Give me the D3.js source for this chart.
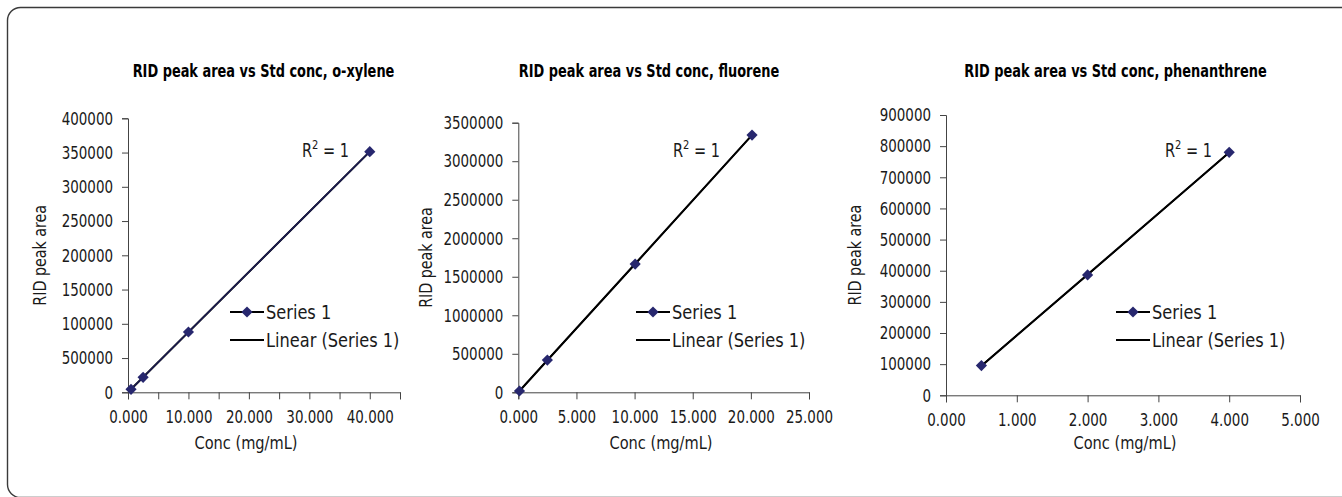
<!DOCTYPE html>
<html>
<head>
<meta charset="utf-8">
<script src="https://cdn.jsdelivr.net/npm/d3@7"></script>
<style>
  html, body { margin: 0; padding: 0; background: #fff; }
  svg { display: block; }
  text { font-family: "Liberation Sans Narrow", "DejaVu Sans Condensed", "Arial Narrow", sans-serif; fill: #1a1a1a; }
  .title { font-weight: bold; font-size: 17px; fill: #000; }
  .tick text { font-size: 18px; }
  .axtitle { font-size: 18px; }
  .legend text { font-size: 20px; }
  .r2 { font-size: 19px; }
</style>
</head>
<body>
<svg id="chart" width="1342" height="497"></svg>
<script>
// ---------------- data ----------------
const titles = [
  "RID peak area vs Std conc, o-xylene",
  "RID peak area vs Std conc, fluorene",
  "RID peak area vs Std conc, phenanthrene"
];
const xTitle = "Conc (mg/mL)";
const yTitle = "RID peak area";
const legendLabels = ["Series 1", "Linear (Series 1)"];
const r2Label = "1";

// o-xylene
const xylConc = [0.5, 2.5, 10.0, 40.0];
const xylArea = [4400, 21900, 88000, 351300];
const xylYTicks = [0, 50000, 100000, 150000, 200000, 250000, 300000, 350000, 400000];
const xylYTickLabels = ["0", "500000", "100000", "150000", "200000", "250000", "300000", "350000", "400000"];
const xylXTicks = [0, 5, 10, 15, 20, 25, 30, 35, 40, 45];
const xylXTickLabels = ["0.000", "", "10.000", "", "20.000", "", "30.000", "", "40.000", ""];

// fluorene
const fluConc = [0.1, 2.5, 10.05, 20.1];
const fluArea = [16600, 418000, 1664000, 3340000];
const fluYTicks = [0, 500000, 1000000, 1500000, 2000000, 2500000, 3000000, 3500000];
const fluYTickLabels = ["0", "500000", "1000000", "1500000", "2000000", "2500000", "3000000", "3500000"];
const fluXTicks = [0, 5, 10, 15, 20, 25];
const fluXTickLabels = ["0.000", "5.000", "10.000", "15.000", "20.000", "25.000"];

// phenanthrene
const phenConc = [0.5, 2.0, 4.0];
const phenArea = [95300, 386500, 780100];
const phenYTicks = [0, 100000, 200000, 300000, 400000, 500000, 600000, 700000, 800000, 900000];
const phenYTickLabels = ["0", "100000", "200000", "300000", "400000", "500000", "600000", "700000", "800000", "900000"];
const phenXTicks = [0, 1, 2, 3, 4, 5];
const phenXTickLabels = ["0.000", "1.000", "2.000", "3.000", "4.000", "5.000"];

// ---------------- layout (positions / styles) ----------------
const panels = [
  { x: xylConc, y: xylArea, xt: xylXTicks, xl: xylXTickLabels, yt: xylYTicks, yl: xylYTickLabels,
    left: 128, right: 400, top: 118.3, bottom: 392.3,
    titleX: 263.5, yTitleX: 40, xTitleX: 246, r2X: 302, legX: 230 },
  { x: fluConc, y: fluArea, xt: fluXTicks, xl: fluXTickLabels, yt: fluYTicks, yl: fluYTickLabels,
    left: 518.3, right: 809, top: 122.7, bottom: 392.3,
    titleX: 649, yTitleX: 426, xTitleX: 661, r2X: 673, legX: 636 },
  { x: phenConc, y: phenArea, xt: phenXTicks, xl: phenXTickLabels, yt: phenYTicks, yl: phenYTickLabels,
    left: 946, right: 1300, top: 115, bottom: 395.3,
    titleX: 1115.5, yTitleX: 855, xTitleX: 1125, r2X: 1165, legX: 1116 }
];
const markerColor = "#27276e";
const axisColor = "#444";

// squeeze a text horizontally to mimic the condensed face of the original
function condense(sel, f) {
  sel.each(function () {
    const len = this.getComputedTextLength();
    if (len > 0) {
      d3.select(this).attr("textLength", len * f).attr("lengthAdjust", "spacingAndGlyphs");
    }
  });
}

const svg = d3.select("#chart");

// outer rounded frame (extends beyond right & bottom edges)
svg.append("rect")
  .attr("x", 7.5).attr("y", 7.5)
  .attr("width", 1400).attr("height", 490)
  .attr("rx", 13).attr("ry", 13)
  .attr("fill", "none").attr("stroke", "#3a3a3a").attr("stroke-width", 1.4);

panels.forEach((p, i) => {
  const g = svg.append("g");
  const xs = d3.scaleLinear().domain([p.xt[0], p.xt[p.xt.length - 1]]).range([p.left, p.right]);
  const ys = d3.scaleLinear().domain([p.yt[0], p.yt[p.yt.length - 1]]).range([p.bottom, p.top]);

  // title
  g.append("text").attr("class", "title")
    .attr("x", p.titleX).attr("y", 77)
    .attr("text-anchor", "middle").text(titles[i])
    .call(condense, 0.845);

  // y axis
  const yAxis = d3.axisLeft(ys).tickValues(p.yt)
    .tickFormat((d, k) => p.yl[k]).tickSize(6).tickPadding(9);
  const yg = g.append("g").attr("transform", `translate(${p.left},0)`).call(yAxis);
  yg.select(".domain").attr("stroke", axisColor);
  yg.selectAll(".tick line").attr("stroke", axisColor);
  yg.selectAll(".tick text").attr("fill", "#1a1a1a").call(condense, 0.83);

  // x axis
  const xAxis = d3.axisBottom(xs).tickValues(p.xt)
    .tickFormat((d, k) => p.xl[k]).tickSize(7).tickPadding(11);
  const xg = g.append("g").attr("transform", `translate(0,${p.bottom})`).call(xAxis);
  xg.select(".domain").attr("stroke", axisColor);
  xg.selectAll(".tick line").attr("stroke", axisColor);
  xg.selectAll(".tick text").attr("fill", "#1a1a1a").call(condense, 0.83);

  // axis titles
  g.append("text").attr("class", "axtitle")
    .attr("x", p.xTitleX).attr("y", 449)
    .attr("text-anchor", "middle").text(xTitle)
    .call(condense, 0.9);
  g.append("text").attr("class", "axtitle")
    .attr("transform", `translate(${p.yTitleX + 6},${(p.top + p.bottom) / 2}) rotate(-90)`)
    .attr("text-anchor", "middle").text(yTitle)
    .call(condense, 0.88);

  // linear trend (least squares)
  const n = p.x.length;
  const mx = d3.mean(p.x), my = d3.mean(p.y);
  let sxy = 0, sxx = 0;
  for (let k = 0; k < n; k++) { sxy += (p.x[k] - mx) * (p.y[k] - my); sxx += (p.x[k] - mx) ** 2; }
  const slope = sxy / sxx, icpt = my - slope * mx;
  const x0 = d3.min(p.x), x1 = d3.max(p.x);
  g.append("line")
    .attr("x1", xs(x0)).attr("y1", ys(icpt + slope * x0))
    .attr("x2", xs(x1)).attr("y2", ys(icpt + slope * x1))
    .attr("stroke", "#000").attr("stroke-width", 2);

  // series line
  const pts = p.x.map((v, k) => [v, p.y[k]]);
  g.append("path").datum(pts)
    .attr("d", d3.line().x(d => xs(d[0])).y(d => ys(d[1])))
    .attr("fill", "none").attr("stroke", i === 0 ? "#1c1c50" : "#000").attr("stroke-width", 1.6);

  // markers
  const diamond = d3.symbol().type(d3.symbolDiamond2).size(80);
  g.selectAll(".pt").data(pts).join("path").attr("class", "pt")
    .attr("transform", d => `translate(${xs(d[0])},${ys(d[1])})`)
    .attr("d", diamond).attr("fill", markerColor);

  // R^2 label (squeezed horizontally)
  const r2 = g.append("g").attr("transform", `translate(${p.r2X},157) scale(0.85,1)`)
    .append("text").attr("class", "r2");
  r2.append("tspan").text("R");
  r2.append("tspan").attr("dy", -8).attr("font-size", 13).text("2");
  r2.append("tspan").attr("dy", 8).text(" = " + r2Label);

  // legend
  const lg = g.append("g").attr("class", "legend");
  const rows = [312, 340];
  lg.append("line").attr("x1", p.legX).attr("x2", p.legX + 34)
    .attr("y1", rows[0]).attr("y2", rows[0]).attr("stroke", "#000").attr("stroke-width", 2);
  lg.append("path").attr("transform", `translate(${p.legX + 17},${rows[0]})`)
    .attr("d", diamond).attr("fill", markerColor);
  lg.append("line").attr("x1", p.legX).attr("x2", p.legX + 34)
    .attr("y1", rows[1]).attr("y2", rows[1]).attr("stroke", "#000").attr("stroke-width", 2);
  legendLabels.forEach((t, k) => {
    lg.append("text").attr("x", p.legX + 36).attr("y", rows[k])
      .attr("dy", "0.35em").text(t).call(condense, 0.9);
  });
});
</script>
</body>
</html>
